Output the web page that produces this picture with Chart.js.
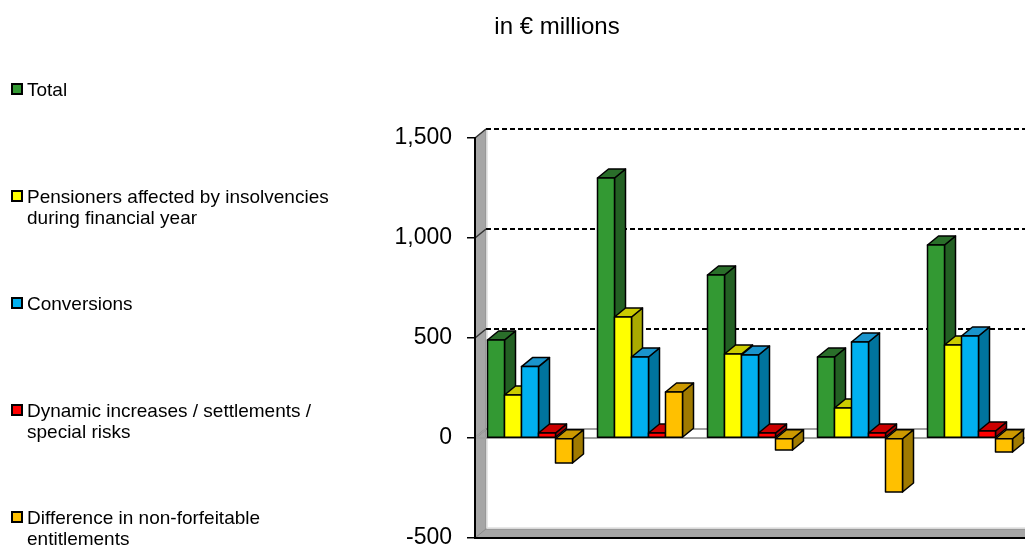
<!DOCTYPE html>
<html>
<head>
<meta charset="utf-8">
<title>in € millions</title>
<script src="https://cdn.jsdelivr.net/npm/chart.js@4.4.0/dist/chart.umd.min.js"></script>
<style>
  body { margin: 0; background: #fff; }
  #chart { display: block; }
</style>
</head>
<body>
<canvas id="chart" width="1025" height="548"></canvas>
<script>
// categories (x labels are cut off in the picture)
var categories = ['Year 1', 'Year 2', 'Year 3', 'Year 4', 'Year 5'];

// series values, € millions
var total = [490, 1300, 815, 405, 965];
var pensioners = [215, 605, 420, 150, 465];
var conversions = [357, 405, 415, 480, 510];
var dynamicIncreases = [25, 25, 25, 25, 35];
var difference = [-125, 230, -60, -270, -70];

var seriesNames = [
    ['Total'],
    ['Pensioners affected by insolvencies', 'during financial year'],
    ['Conversions'],
    ['Dynamic increases / settlements /', 'special risks'],
    ['Difference in non-forfeitable', 'entitlements']
];

var yMin = -500, yMax = 1500, yStep = 500;

// front / top / side colours for the 3D look
var frontColors = ['#339933', '#ffff00', '#00b0f0', '#ff0000', '#ffc000'];
var topColors = ['#2a6e2a', '#cccc00', '#1a94cc', '#cc0000', '#cc9900'];
var sideColors = ['#236023', '#aaaa00', '#00749e', '#a00000', '#a07a00'];

var DX = 11, DY = -9; // depth offset
var FONT = '"Liberation Sans", Arial, sans-serif';

function poly(ctx, pts, fill, stroke, lw) {
    ctx.beginPath();
    ctx.moveTo(pts[0][0], pts[0][1]);
    for (var k = 1; k < pts.length; k++) ctx.lineTo(pts[k][0], pts[k][1]);
    ctx.closePath();
    if (fill) { ctx.fillStyle = fill; ctx.fill(); }
    if (stroke) { ctx.strokeStyle = stroke; ctx.lineWidth = lw || 1; ctx.stroke(); }
}

var bars3d = {
    id: 'bars3d',
    beforeDatasetsDraw: function (chart) {
        var ctx = chart.ctx;
        var a = chart.chartArea;
        var y = chart.scales.y;
        var L = a.left, R = a.right, T = a.top, B = a.bottom;
        ctx.save();
        ctx.lineJoin = 'round';
        // left wall and floor
        poly(ctx, [[L, T], [L + DX, T + DY], [L + DX, B + DY], [L, B]], '#a6a6a6', '#8c8c8c', 1);
        poly(ctx, [[L, B], [L + DX, B + DY], [R + DX, B + DY], [R, B]], '#a6a6a6', '#8c8c8c', 1);
        ctx.strokeStyle = '#e0e0e0';
        ctx.lineWidth = 1.5;
        ctx.beginPath();
        ctx.moveTo(L + DX + 1, T + DY);
        ctx.lineTo(L + DX + 1, B + DY - 1);
        ctx.lineTo(R + DX, B + DY - 1);
        ctx.stroke();

        // back wall gridlines
        for (var v = yMin + yStep; v <= yMax; v += yStep) {
            var py = y.getPixelForValue(v);
            ctx.setLineDash([5, 3]);
            ctx.strokeStyle = '#000';
            ctx.lineWidth = 2;
            ctx.beginPath();
            ctx.moveTo(L + DX, py + DY);
            ctx.lineTo(R + DX, py + DY);
            ctx.stroke();
            ctx.setLineDash([]);
            ctx.strokeStyle = '#333';
            ctx.lineWidth = 1.5;
            ctx.beginPath();
            ctx.moveTo(L, py);
            ctx.lineTo(L + DX, py + DY);
            ctx.stroke();
        }
        ctx.setLineDash([]);

        // zero plane
        var y0 = y.getPixelForValue(0);
        poly(ctx, [[L, y0], [L + DX, y0 + DY], [R + DX, y0 + DY], [R, y0]], null, '#a0a0a0', 2);

        // bars, category by category, series in order
        for (var j = 0; j < categories.length; j++) {
            for (var i = 0; i < chart.data.datasets.length; i++) {
                var el = chart.getDatasetMeta(i).data[j];
                var p = el.getProps(['x', 'y', 'base', 'width'], true);
                var l = p.x - p.width / 2, r = p.x + p.width / 2;
                var t = Math.min(p.y, p.base), b = Math.max(p.y, p.base);
                poly(ctx, [[r, t], [r + DX, t + DY], [r + DX, b + DY], [r, b]], sideColors[i], '#000', 1.5);
                poly(ctx, [[l, t], [l + DX, t + DY], [r + DX, t + DY], [r, t]], topColors[i], '#000', 1.5);
                poly(ctx, [[l, t], [r, t], [r, b], [l, b]], frontColors[i], '#000', 1.5);
            }
        }
        ctx.restore();
        return false;
    },
    afterDraw: function (chart) {
        var ctx = chart.ctx;
        var a = chart.chartArea;
        ctx.save();
        // front edges of the walls
        ctx.strokeStyle = '#000';
        ctx.lineWidth = 2;
        ctx.beginPath();
        ctx.moveTo(a.left, a.top);
        ctx.lineTo(a.left, a.bottom);
        ctx.lineTo(a.right, a.bottom);
        ctx.stroke();
        // title
        ctx.fillStyle = '#000';
        ctx.font = '24px ' + FONT;
        ctx.textAlign = 'center';
        ctx.textBaseline = 'middle';
        ctx.fillText('in € millions', 557, 27);
        // legend
        ctx.font = '19px ' + FONT;
        ctx.textAlign = 'left';
        ctx.textBaseline = 'alphabetic';
        for (var i = 0; i < seriesNames.length; i++) {
            var cy = 89 + i * 107;
            ctx.fillStyle = frontColors[i];
            ctx.fillRect(12, cy - 5, 10, 10);
            ctx.strokeStyle = '#000';
            ctx.lineWidth = 2;
            ctx.strokeRect(12, cy - 5, 10, 10);
            ctx.fillStyle = '#000';
            for (var k = 0; k < seriesNames[i].length; k++) {
                ctx.fillText(seriesNames[i][k], 27, cy + 6.5 + k * 21.7);
            }
        }
        ctx.restore();
    }
};

var ctx = document.getElementById('chart').getContext('2d');
var myChart = new Chart(ctx, {
    type: 'bar',
    data: {
        labels: categories,
        datasets: [
            { label: seriesNames[0].join(' '), data: total, backgroundColor: frontColors[0] },
            { label: seriesNames[1].join(' '), data: pensioners, backgroundColor: frontColors[1] },
            { label: seriesNames[2].join(' '), data: conversions, backgroundColor: frontColors[2] },
            { label: seriesNames[3].join(' '), data: dynamicIncreases, backgroundColor: frontColors[3] },
            { label: seriesNames[4].join(' '), data: difference, backgroundColor: frontColors[4] }
        ]
    },
    options: {
        responsive: false,
        animation: false,
        events: [],
        categoryPercentage: 85 / 110,
        barPercentage: 1,
        layout: { padding: { top: 138, bottom: 10, left: 0, right: 0 } },
        plugins: {
            legend: { display: false },
            title: { display: false },
            tooltip: { enabled: false }
        },
        scales: {
            x: { display: false },
            y: {
                min: yMin,
                max: yMax,
                afterFit: function (scale) {
                    scale.width = 475;
                    scale.paddingTop = 0;
                    scale.paddingBottom = 0;
                },
                ticks: {
                    stepSize: yStep,
                    padding: 15,
                    color: '#000',
                    z: 1,
                    font: { family: FONT, size: 23 },
                    callback: function (v) { return v.toLocaleString('en-US'); }
                },
                grid: {
                    z: 1,
                    drawOnChartArea: false,
                    drawTicks: true,
                    tickLength: 8,
                    color: '#000',
                    lineWidth: 1.5
                },
                border: { display: true, color: '#000', width: 2, z: 1 }
            }
        }
    },
    plugins: [bars3d]
});
</script>
</body>
</html>
